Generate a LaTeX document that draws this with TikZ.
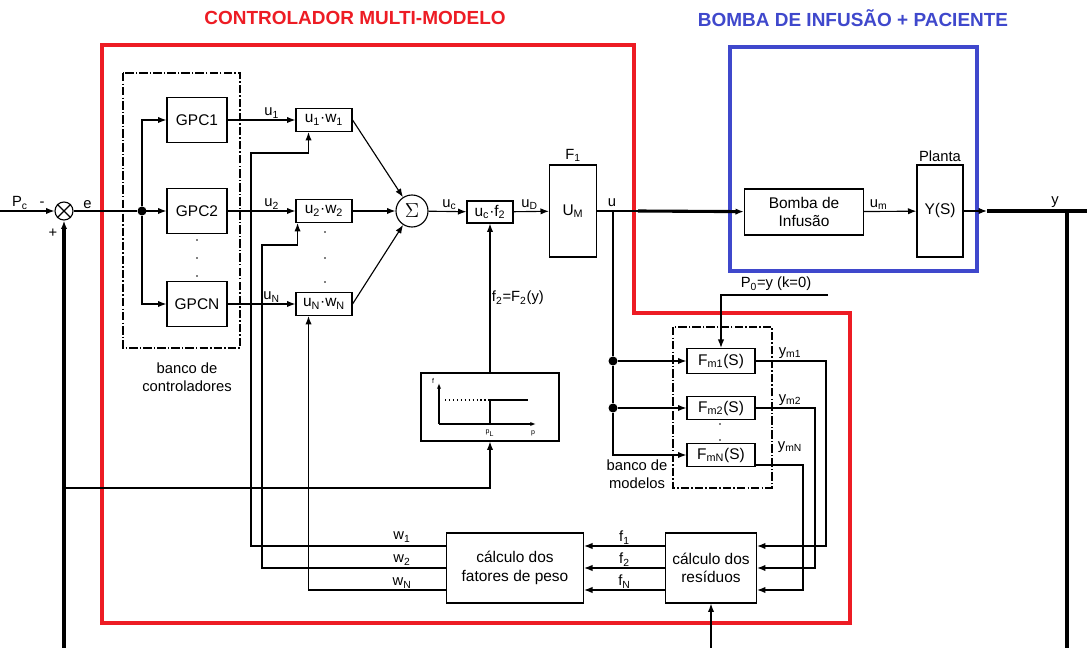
\documentclass[tikz,border=0pt]{standalone}
\usepackage{fontspec}
\setmainfont{Liberation Sans}
\usetikzlibrary{arrows.meta, positioning}

\definecolor{vermelho}{RGB}{237,28,36}
\definecolor{azul}{RGB}{63,72,204}

\tikzset{
    >={Latex[length=6pt, width=4.5pt]},
    linha/.style={line width=0.8pt},
    grossa/.style={line width=2.2pt},
    bx/.style 2 args={draw, line width=0.8pt, inner sep=1pt, align=center,
        minimum width=#1*0.025cm, minimum height=#2*0.025cm,
        font=\fontsize{11}{13}\selectfont},
    lbl/.style={font=\fontsize{10.5}{12.5}\selectfont, inner sep=1pt},
    mini/.style={font=\fontsize{5}{5}\selectfont, inner sep=0pt},
    banco/.style={line width=0.8pt, dash pattern=on 6pt off 1.5pt on 1pt off 1.5pt},
    ponto/.style={circle, fill, inner sep=0pt, minimum size=9*0.025cm},
    titulo/.style={font=\fontsize{13.5}{16}\selectfont\bfseries},
}

\begin{document}
\begin{tikzpicture}[x=0.025cm, y=-0.025cm]
    \useasboundingbox (0,0) rectangle (1087,648);

    % 1. TÍTULOS E MOLDURAS
    \node[titulo, text=vermelho] (tcontr) at (355,18) {CONTROLADOR MULTI-MODELO};
    \node[titulo, text=azul] (tbomba) at (853,18) {BOMBA DE INFUSÃO + PACIENTE};
    \draw[vermelho, line width=2.8pt] (102,45) -- (634,45) -- (634,313) -- (850,313) -- (850,623) -- (102,623) -- cycle;
    \draw[azul, line width=2.8pt] (730,47) rectangle (977,271);

    % 2. SOMADOR DE ENTRADA
    \node[circle, draw, linha, minimum size=18*0.025cm, inner sep=0pt] (se) at (64,211) {};
    \draw[linha] (se.north west) -- (se.south east) (se.north east) -- (se.south west);
    \coordinate (pcin) at (0,211);
    \draw[linha, ->] (pcin) -- (se);
    \node[lbl] (lpc) at (20,203) {P\textsubscript{c}};
    \node[lbl] (lmenos) at (42,204) {-};
    \node[lbl] (lmais) at (53,233) {+};

    % 3. BANCO DE CONTROLADORES E PRODUTOS
    \draw[banco] (123,73) rectangle (240,348);
    \node[lbl, align=center] (lbc) at (187,377) {banco de\\controladores};
    \node[ponto] (jd) at (142,211) {};
    \draw[linha] (se) -- node[lbl, above, pos=0.22] (le) {e} (jd);
    \node[circle, draw, linha, minimum size=32*0.025cm, inner sep=0pt] (soma) at (412,211) {\fontsize{15}{15}\selectfont$\Sigma$};

    \foreach \n/\y in {1/120, 2/211, N/304} {
        \node[bx={60}{45}] (gpc\n) at (197,\y) {GPC\n};
        \node[bx={56}{23}] (mw\n) at (324,\y) {u\textsubscript{\n}·w\textsubscript{\n}};
        \draw[linha, ->] (jd) |- (gpc\n);
        \draw[linha, ->] (gpc\n) -- node[lbl, above, pos=0.65] (lu\n) {u\textsubscript{\n}} (mw\n);
        \draw[linha, ->] (mw\n.east) -- (soma);
    }
    \foreach \y in {240, 258, 276} \fill (197,\y) circle (0.9);
    \foreach \y in {232, 258, 282} \fill (325,\y) circle (0.9);

    % 4. FATOR F2 E SATURAÇÃO
    \node[bx={46}{22}] (ucf) at (490,212) {u\textsubscript{c}·f\textsubscript{2}};
    \draw[linha, ->] (soma) -- node[lbl, above, pos=0.55] (luc) {u\textsubscript{c}} (ucf);
    \node[bx={47}{92}] (umx) at (573,211) {U\textsubscript{M}};
    \node[lbl, above=1pt of umx] (lf1) {F\textsubscript{1}};
    \draw[linha, ->] (ucf) -- node[lbl, above, pos=0.45] (lud) {u\textsubscript{D}} (umx);

    \node[bx={138}{68}] (gbox) at (490,407) {};
    \draw[linha, ->] (gbox) -- node[lbl, right, pos=0.5] (lf2) {f\textsubscript{2}=F\textsubscript{2}(y)} (ucf);
    \draw[linha, -{Latex[length=4pt, width=3pt]}] (439,424) -- (439,383);
    \draw[linha, -{Latex[length=4pt, width=3pt]}] (439,424) -- (536,424);
    \draw[linha, dotted] (445,400) -- (490,400);
    \draw[linha] (490,424) -- (490,400) -- (528,400);
    \node[mini] (lfy) at (433,381) {f};
    \node[mini] (lpl) at (490,433) {p\textsubscript{L}};
    \node[mini] (lpp) at (533,433) {p};

    % 5. BOMBA DE INFUSÃO E PLANTA
    \node[bx={119}{46}] (bomba) at (804,212) {Bomba de\\Infusão};
    \node[bx={46}{92}] (planta) at (940,211) {Y(S)};
    \node[lbl, above=1pt of planta] (lplanta) {Planta};
    \coordinate (ucor) at (613,211);
    \coordinate (uthk) at (638,211);
    \draw[linha] (umx) -- (uthk);
    \node[lbl] (lu) at (612,203) {u};
    \draw[grossa, ->] (uthk) -- (bomba);
    \draw[linha, ->] (bomba) -- node[lbl, above, pos=0.28] (lum) {u\textsubscript{m}} (planta);

    \coordinate (ya) at (987,211);
    \coordinate (ysai) at (1087,211);
    \coordinate (yj) at (1067,211);
    \coordinate (yfim) at (1067,648);
    \draw[linha, ->] (planta) -- (ya);
    \draw[grossa] (ya) -- (ysai);
    \draw[grossa] (yj) -- (yfim);
    \node[lbl] (ly) at (1055,202) {y};

    % 6. REALIMENTAÇÃO
    \coordinate (fbl) at (64,648);
    \coordinate (fbt) at (64,488);
    \coordinate (fbr) at (711,648);
    \draw[grossa, ->] (fbl) -- (se);
    \draw[linha, ->] (fbt) -| (gbox);

    % 7. BANCO DE MODELOS
    \draw[banco] (673,327) rectangle (772,488);
    \node[lbl, align=center] (lbm) at (637,474) {banco de\\modelos};
    \node[bx={68}{25}] (fm1) at (721,361) {F\textsubscript{m1}(S)};
    \node[bx={68}{23}] (fm2) at (721,408) {F\textsubscript{m2}(S)};
    \node[bx={68}{23}] (fmN) at (721,455) {F\textsubscript{mN}(S)};
    \foreach \y in {424, 440} \fill (720,\y) circle (0.9);
    \node[ponto] (jm1) at (613,361) {};
    \node[ponto] (jm2) at (613,408) {};
    \draw[linha] (ucor) -- (jm1);
    \draw[linha] (jm1) -- (jm2);
    \draw[linha, ->] (jm1) -- (fm1);
    \draw[linha, ->] (jm2) -- (fm2);
    \draw[linha, ->] (jm2) |- (fmN);

    \coordinate (p0) at (828,295);
    \draw[linha, ->] (p0) -| (fm1);
    \node[lbl] (lp0) at (776,284) {P\textsubscript{0}=y (k=0)};

    % 8. CÁLCULO DOS RESÍDUOS E DOS FATORES DE PESO
    \node[bx={91}{70}] (res) at (711,568) {cálculo dos\\resíduos};
    \node[bx={137}{70}] (fat) at (515,568) {cálculo dos\\fatores de peso};
    \coordinate (r1) at (757,546);
    \coordinate (r2) at (757,568);
    \coordinate (rN) at (757,590);
    \draw[linha, ->] (fbr) -- (res);

    \draw[linha, ->] (fm1) -| (826,546) -- (r1);
    \draw[linha, ->] (fm2) -| (815,568) -- (r2);
    \draw[linha, ->] ([yshift=1.5pt]fmN.south east) -| (803,590) -- (rN);
    \node[lbl] (lym1) at (790,353) {y\textsubscript{m1}};
    \node[lbl] (lym2) at (790,400) {y\textsubscript{m2}};
    \node[lbl] (lymN) at (790,447) {y\textsubscript{mN}};

    \foreach \n in {1, 2, N} {
        \draw[linha, ->] (res.west |- r\n) -- node[lbl, above] (lf\n) {f\textsubscript{\n}} (fat.east |- r\n);
    }
    \draw[linha, ->] (fat.west |- r1) -| (251,153) -| ([xshift=-11pt]mw1.south);
    \draw[linha, ->] (fat.west |- r2) -| (262,245) -| ([xshift=1.5pt]mw2.south west);
    \draw[linha, ->] (fat.west |- rN) -| ([xshift=-11pt]mwN.south);
    \node[lbl] (lw1) at (402,537) {w\textsubscript{1}};
    \node[lbl] (lw2) at (402,560) {w\textsubscript{2}};
    \node[lbl] (lwN) at (402,583) {w\textsubscript{N}};

\end{tikzpicture}
\end{document}
